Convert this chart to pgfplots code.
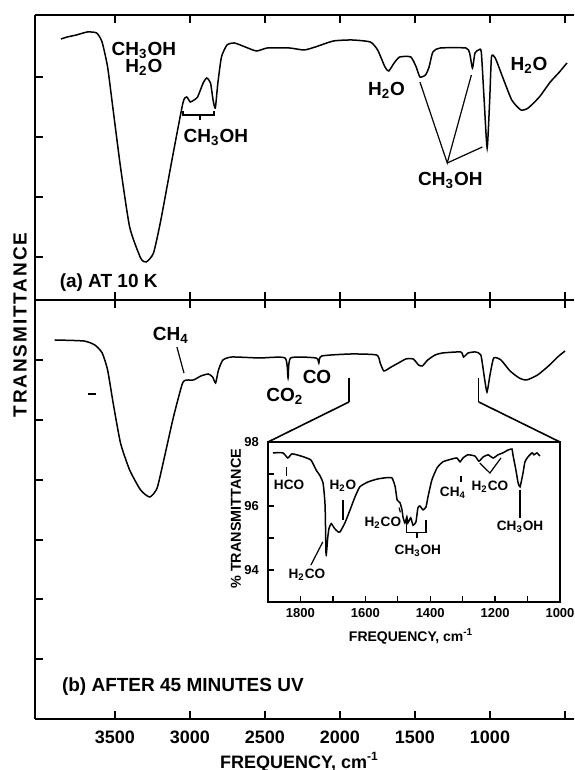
\documentclass[border=0pt]{standalone}
\usepackage{fontspec}
\setmainfont{Liberation Sans}
\usepackage{pgfplots}
\pgfplotsset{compat=1.18}
\newcommand{\fs}[1]{\fontsize{#1}{#1}\selectfont\bfseries}

\pgfplotstableread{
f y
3860 261
3818 263
3757 265
3684 268
3622 267
3586 258
3549 233
3512 190
3463 133
3402 73
3329 42
3292 38
3243 47
3194 80
3120 140
3047 197
3022 203
2998 198
2973 200
2949 203
2912 217
2888 222
2863 217
2846 200
2831 192
2814 217
2790 243
2753 255
2704 257
2631 253
2557 249
2484 252
2337 252
2239 250
2165 253
2043 259
1920 260
1798 258
1749 250
1700 233
1675 229
1639 237
1602 243
1528 243
1492 233
1467 223
1430 225
1406 233
1381 248
1332 252
1161 252
1136 247
1117 232
1100 247
1075 250
1058 248
1039 200
1019 152
1002 200
990 243
965 242
916 223
855 200
794 190
745 192
671 203
598 218
537 228
487 237
}\specA

\pgfplotstableread{
f y
3902 379
3707 378
3634 374
3585 366
3549 349
3512 316
3463 276
3402 249
3329 229
3268 222
3219 231
3170 262
3110 302
3049 336
3012 339
2976 339
2927 343
2878 345
2849 342
2829 336
2810 349
2780 359
2720 362
2537 361
2366 361
2346 341
2329 361
2159 361
2141 356
2122 363
1927 365
1756 364
1732 356
1707 348
1659 352
1610 356
1561 360
1512 360
1476 354
1451 353
1415 359
1366 364
1317 366
1195 367
1176 362
1146 366
1098 367
1061 364
1037 341
1020 327
1000 344
975 361
927 359
866 348
805 341
756 339
683 344
610 353
549 362
500 368
}\specB

\pgfplotstableread{
f y
1885 97.66
1854 97.66
1839 97.50
1826 97.63
1798 97.56
1768 97.44
1752 97.13
1740 96.95
1730 96.70
1724 96.00
1721 94.47
1716 95.00
1712 95.30
1705 95.45
1695 95.30
1685 95.20
1678 95.19
1663 95.47
1647 95.88
1632 96.28
1617 96.60
1592 96.75
1564 96.84
1539 96.88
1518 96.88
1508 96.60
1502 96.19
1493 96.10
1487 95.88
1484 95.66
1478 95.47
1472 95.66
1469 95.47
1460 95.63
1453 95.40
1444 95.50
1438 95.94
1432 96.00
1422 95.88
1413 95.97
1407 96.28
1395 96.81
1379 97.19
1361 97.38
1333 97.47
1318 97.50
1308 97.38
1299 97.50
1284 97.60
1262 97.56
1250 97.40
1237 97.53
1222 97.60
1206 97.50
1191 97.60
1176 97.66
1160 97.75
1148 97.78
1145 97.60
1136 97.13
1129 96.72
1123 96.60
1114 97.03
1108 97.38
1099 97.53
1086 97.66
1080 97.60
1071 97.66
1062 97.56
}\specC

\tikzset{
  ann/.style={black, line width=0.6pt},
  spec/.style={black, line width=0.75pt, smooth, tension=0.35},
}
\pgfplotsset{
  mainax/.style={
    scale only axis, width=269.5pt, anchor=south west,
    xmin=440, xmax=4033, x dir=reverse,
    axis x line=box, axis y line=left,
    axis line style={-, line width=0.9pt},
    tick align=inside, major tick length=4pt,
    every tick/.style={black, line width=0.8pt},
    xtick={500,1000,...,3500},
    yticklabels={},
    /pgf/number format/assume math mode=true,
    clip=false,
  },
}

\begin{document}
\bfseries
\begin{tikzpicture}
\useasboundingbox (0,0) rectangle (287pt,385pt);

% ---------- panel (a)
\begin{axis}[mainax, at={(17.5pt,235pt)}, height=142.5pt,
  ymin=0, ymax=285, ytick={43,103,163,223}, xticklabels={}]
\addplot[spec, no markers] table[x=f,y=y] {\specA};
\node[font={\fs{9.5pt}}, align=center] at (axis cs:3307,241) {CH\textsubscript{3}OH\\[-1pt]H\textsubscript{2}O};
\draw[ann] (axis cs:3047,189) -- (axis cs:3047,185) -- (axis cs:2840,185) -- (axis cs:2840,189);
\draw[ann] (axis cs:2933,185) -- (axis cs:2933,180);
\node[font={\fs{9.5pt}}] at (axis cs:2827,163) {CH\textsubscript{3}OH};
\node[font={\fs{9.5pt}}] at (axis cs:1690,210) {H\textsubscript{2}O};
\draw[ann] (axis cs:1467,218) -- (axis cs:1285,137) -- (axis cs:1124,225);
\draw[ann] (axis cs:1285,137) -- (axis cs:1051,153);
\node[font={\fs{9.5pt}}] at (axis cs:1264,120) {CH\textsubscript{3}OH};
\node[font={\fs{9.5pt}}] at (axis cs:740,235) {H\textsubscript{2}O};
\node[font={\fs{9.5pt}}, anchor=west] at (axis cs:3915,17) {(a) AT 10 K};
\end{axis}

% ---------- panel (b)
\begin{axis}[mainax, at={(17.5pt,25.5pt)}, height=209.5pt,
  ymin=0, ymax=419, ytick={60,120,179,239,299,359},
  xticklabels={,1000,1500,2000,2500,3000,3500},
  xticklabel style={font={\fs{9pt}}, anchor=center, yshift=-9pt}]
\addplot[spec, no markers] table[x=f,y=y] {\specB};
\node[font={\fs{9.5pt}}] at (axis cs:3127,384) {CH\textsubscript{4}};
\draw[ann] (axis cs:3087,372) -- (axis cs:3040,346);
\node[font={\fs{9.5pt}}] at (axis cs:2367,323) {CO\textsubscript{2}};
\node[font={\fs{9.5pt}}] at (axis cs:2153,342) {CO};
\draw[line width=0.9pt] (axis cs:3680,325) -- (axis cs:3625,325);
\draw[ann] (axis cs:1940,341) -- (axis cs:1940,317);
\draw[ann] (axis cs:1075,341) -- (axis cs:1075,317);
\coordinate (ZL) at (axis cs:1940,317);
\coordinate (ZR) at (axis cs:1075,317);
\node[font={\fs{9.5pt}}, anchor=west] at (axis cs:3900,32) {(b) AFTER 45 MINUTES UV};
\node[font={\fs{9pt}}] at (axis cs:2270,-43) {FREQUENCY, cm\textsuperscript{-1}};
\end{axis}

% ---------- inset
\begin{axis}[scale only axis, anchor=south west, at={(134pt,84pt)},
  width=146pt, height=80pt,
  xmin=1000, xmax=1900, x dir=reverse, ymin=93, ymax=98,
  axis line style={line width=0.9pt},
  tick align=inside, major tick length=3pt,
  every tick/.style={black, line width=0.7pt},
  xtick={1000,1100,...,1800},
  xticklabels={1000,,1200,,1400,,1600,,1800},
  ytick={94,95,96,97,98},
  yticklabels={94,,96,,98},
  xtick pos=bottom, ytick pos=left,
  /pgf/number format/assume math mode=true,
  xticklabel style={font={\fs{6.5pt}}, anchor=center, yshift=-5.5pt},
  yticklabel style={font={\fs{6.5pt}}, anchor=east, xshift=-1pt},
  clip=false]
\addplot[spec, tension=0.3, no markers] table[x=f,y=y] {\specC};
\coordinate (IL) at (rel axis cs:0,1);
\coordinate (IR) at (rel axis cs:1,1);
\node[font={\fs{6.8pt}}] at (axis cs:1835,96.66) {HCO};
\draw[ann] (axis cs:1843,97.22) -- (axis cs:1843,96.94);
\node[font={\fs{6.8pt}}] at (axis cs:1669,96.62) {H\textsubscript{2}O};
\draw[ann] (axis cs:1669,96.19) -- (axis cs:1669,95.56);
\node[font={\fs{6.8pt}}] at (axis cs:1780,93.85) {H\textsubscript{2}CO};
\draw[ann] (axis cs:1768,94.15) -- (axis cs:1731,94.88);
\node[font={\fs{6.8pt}}] at (axis cs:1546,95.47) {H\textsubscript{2}CO};
\draw[ann] (axis cs:1496,95.95) -- (axis cs:1492,95.80);
\draw[ann] (axis cs:1472,95.56) -- (axis cs:1472,95.16) -- (axis cs:1413,95.16) -- (axis cs:1413,95.56);
\draw[ann] (axis cs:1441,95.16) -- (axis cs:1441,95.0);
\node[font={\fs{6.8pt}}] at (axis cs:1438,94.6) {CH\textsubscript{3}OH};
\node[font={\fs{6.8pt}}] at (axis cs:1330,96.4) {CH\textsubscript{4}};
\draw[ann] (axis cs:1305,96.94) -- (axis cs:1305,96.75);
\node[font={\fs{6.8pt}}] at (axis cs:1216,96.6) {H\textsubscript{2}CO};
\draw[ann] (axis cs:1247,97.34) -- (axis cs:1216,97.03) -- (axis cs:1182,97.5);
\node[font={\fs{6.8pt}}] at (axis cs:1123,95.34) {CH\textsubscript{3}OH};
\draw[ann] (axis cs:1123,96.5) -- (axis cs:1123,95.63);
\node[font={\fs{7.2pt}}, rotate=90] at ([xshift=-16pt]rel axis cs:0,0.52) {\% TRANSMITTANCE};
\node[font={\fs{7pt}}] at ([yshift=-17pt]rel axis cs:0.49,0) {FREQUENCY, cm\textsuperscript{-1}};
\end{axis}

\draw[line width=0.8pt] (ZL) -- (IL);
\draw[line width=0.8pt] (ZR) -- (IR);

\node[font={\fs{9.5pt}\addfontfeature{LetterSpace=10}}, rotate=90] at (10pt,222.5pt) {TRANSMITTANCE};
\end{tikzpicture}
\end{document}
